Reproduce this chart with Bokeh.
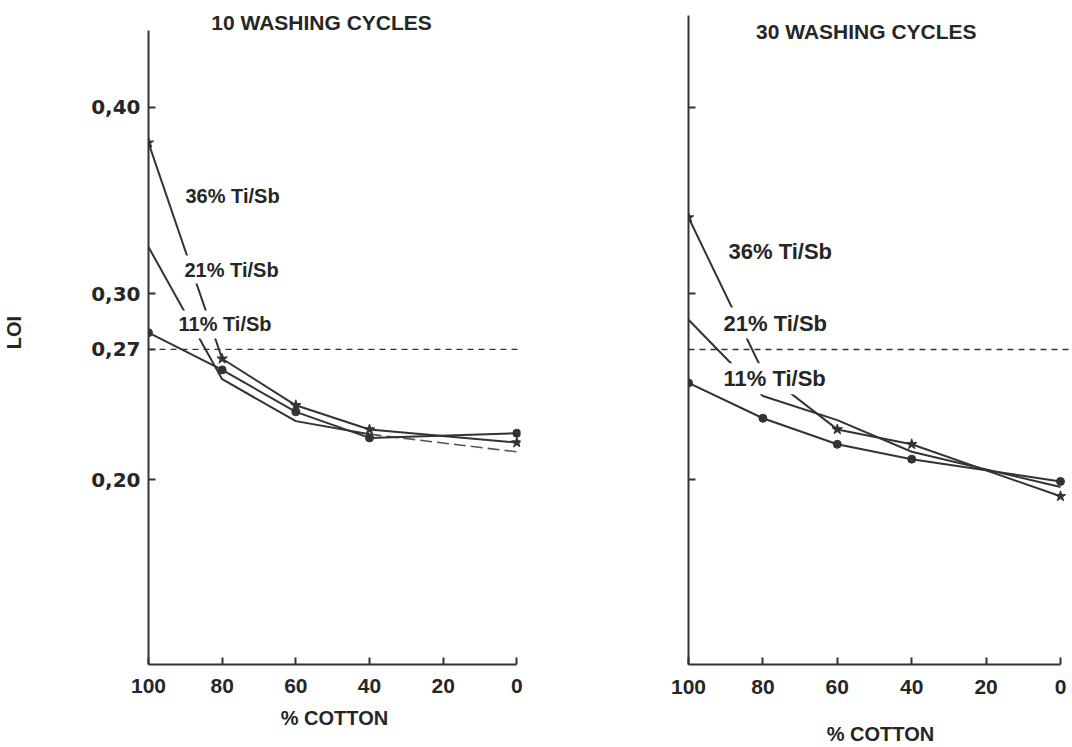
from bokeh.plotting import figure
from bokeh.models import Range1d, FixedTicker, CustomJSTickFormatter, Span, Label
from bokeh.layouts import row
from bokeh.embed import file_html
from bokeh.resources import INLINE

# ---- data ----
cotton = [100, 80, 60, 40, 0]
x_ticks = [0, 20, 40, 60, 80, 100]
y_ticks_left = [0.20, 0.27, 0.30, 0.40]
y_ticks_right = [0.20, 0.30, 0.40]
loi_limit = 0.27

# 10 washing cycles
w10_ti36 = [0.381, 0.265, 0.240, 0.227, 0.220]
w10_ti21 = [0.325, 0.254, 0.2315, 0.2245, 0.215]
w10_ti11 = [0.279, 0.259, 0.2365, 0.2225, 0.225]

# 30 washing cycles
w30_ti36 = [0.341, 0.258, 0.227, 0.219, 0.191]
w30_ti21 = [0.286, 0.245, 0.232, 0.215, 0.196]
w30_ti11 = [0.252, 0.233, 0.219, 0.211, 0.199]

series_names = ["36% Ti/Sb", "21% Ti/Sb", "11% Ti/Sb"]
titles = ["10 WASHING CYCLES", "30 WASHING CYCLES"]

INK = "#333333"
TXT = "#262626"
FONT = "Liberation Sans"
YFONT = "DejaVu Sans"


def style_axes(p, show_y_labels, x_label_standoff, x_tick_standoff):
    for ax in p.xaxis:
        ax.ticker = FixedTicker(ticks=x_ticks)
        ax.bounds = (0, 100)
        ax.axis_line_width = 2
        ax.axis_line_color = INK
        ax.major_tick_in = 7
        ax.major_tick_out = 0
        ax.major_tick_line_width = 2
        ax.major_tick_line_color = INK
        ax.minor_tick_line_color = None
        ax.major_label_text_font = FONT
        ax.major_label_text_font_style = "bold"
        ax.major_label_text_font_size = "21px"
        ax.major_label_text_color = TXT
        ax.major_label_standoff = x_tick_standoff
        ax.axis_label = "% COTTON"
        ax.axis_label_text_font = FONT
        ax.axis_label_text_font_style = "bold"
        ax.axis_label_text_font_size = "20px"
        ax.axis_label_text_color = TXT
        ax.axis_label_standoff = x_label_standoff
    for ax in p.yaxis:
        ax.axis_line_width = 2
        ax.axis_line_color = INK
        ax.major_tick_in = 7
        ax.major_tick_out = 0
        ax.major_tick_line_width = 2
        ax.major_tick_line_color = INK
        ax.minor_tick_line_color = None
        ax.major_label_text_font = YFONT
        ax.major_label_text_font_style = "bold"
        ax.major_label_text_font_size = "20px"
        ax.major_label_text_color = TXT
        ax.major_label_standoff = 8
        if show_y_labels:
            ax.ticker = FixedTicker(ticks=y_ticks_left)
            ax.formatter = CustomJSTickFormatter(code="return tick.toFixed(2).replace('.', ',');")
        else:
            ax.ticker = FixedTicker(ticks=y_ticks_right)
            ax.formatter = CustomJSTickFormatter(code="return '';")
    p.grid.visible = False
    p.outline_line_color = None
    p.background_fill_color = "white"
    p.border_fill_color = "white"


def draw_panel(p, s36, s21, s11, dashed_tail):
    p.add_layout(Span(location=loi_limit, dimension="width", line_color=INK,
                      line_width=1.3, line_dash="6 5"))
    p.line(cotton, s36, line_color=INK, line_width=2)
    if dashed_tail:
        p.line(cotton[:4], s21[:4], line_color=INK, line_width=2)
        p.line(cotton[3:], s21[3:], line_color="#555555", line_width=1.6, line_dash="12 5")
    else:
        p.line(cotton, s21, line_color=INK, line_width=2)
    p.line(cotton, s11, line_color=INK, line_width=2)
    p.scatter(cotton, s36, marker="star", size=11, color=INK)
    p.scatter(cotton, s11, marker="circle", size=8, color=INK)


# ---- left panel ----
left = figure(width=600, height=747, output_backend="svg", toolbar_location=None,
              x_range=Range1d(100, -1.0), y_range=Range1d(0.1008, 0.4574),
              min_border_left=148, min_border_right=80, min_border_top=0,
              min_border_bottom=82)
style_axes(left, True, 11, 14)
left.yaxis.bounds = (0.1008, 0.4413)
left.yaxis.axis_label = "LOI"
left.yaxis.axis_label_text_font = FONT
left.yaxis.axis_label_text_font_style = "bold"
left.yaxis.axis_label_text_font_size = "20px"
left.yaxis.axis_label_text_color = TXT
left.yaxis.axis_label_standoff = 63
draw_panel(left, w10_ti36, w10_ti21, w10_ti11, True)

left.add_layout(Label(x=53.0, y=0.4456, text=titles[0], text_font=FONT,
                      text_font_style="bold", text_font_size="21px", text_color=TXT,
                      text_align="center", text_baseline="middle"))
for name, (lx, ly) in zip(series_names, [(90.77, 0.3523), (91.04, 0.3129), (92.67, 0.2834)]):
    left.add_layout(Label(x=lx, y=ly, text=name, text_font=FONT, text_font_style="bold",
                          text_font_size="20px", text_color=TXT, text_align="left",
                          text_baseline="middle", background_fill_color="white",
                          padding=3))

# ---- right panel ----
right = figure(width=472, height=747, output_backend="svg", toolbar_location=None,
               x_range=Range1d(100, -3.23), y_range=Range1d(0.1005, 0.4578),
               min_border_left=88, min_border_right=0, min_border_top=0,
               min_border_bottom=79)
style_axes(right, False, 26, 15)
right.yaxis.bounds = (0.1005, 0.4497)
draw_panel(right, w30_ti36, w30_ti21, w30_ti11, False)

right.add_layout(Label(x=52.2, y=0.4412, text=titles[1], text_font=FONT,
                       text_font_style="bold", text_font_size="21px", text_color=TXT,
                       text_align="center", text_baseline="middle"))
for name, (lx, ly) in zip(series_names, [(90.05, 0.3227), (91.4, 0.2842), (91.4, 0.2543)]):
    right.add_layout(Label(x=lx, y=ly, text=name, text_font=FONT, text_font_style="bold",
                           text_font_size="22px", text_color=TXT, text_align="left",
                           text_baseline="middle", background_fill_color="white",
                           padding=3))

layout = row(left, right)
open("out.html", "w").write(file_html(layout, INLINE))
